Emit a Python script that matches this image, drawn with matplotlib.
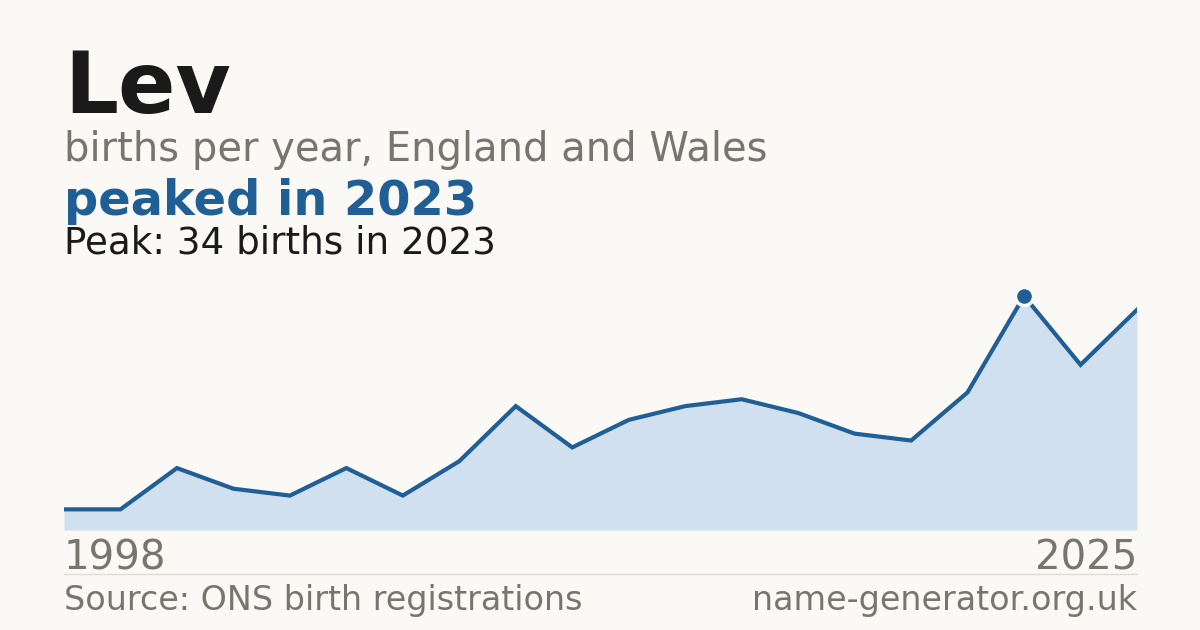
import matplotlib
matplotlib.use("Agg")
import matplotlib.pyplot as plt

# births per year for the name
years = [1998, 1999, 2001, 2003, 2004, 2006, 2008, 2009, 2011, 2012,
         2014, 2015, 2017, 2018, 2019, 2020, 2021, 2023, 2024, 2025]
births = [3, 3, 9, 6, 5, 9, 5, 10, 18, 12,
          16, 18, 19, 17, 14, 13, 20, 34, 24, 32]

name = "Lev"
subtitle = "births per year, England and Wales"
headline = "peaked in 2023"
peak_note = "Peak: 34 births in 2023"
source = "Source: ONS birth registrations"
site = "name-generator.org.uk"

BG = "#faf9f5"
BLUE = "#1f5f96"
FILL = "#d0e0ef"
GREY = "#78746e"
INK = "#1a1a1a"

W, H = 1200, 630
fig = plt.figure(figsize=(W / 100, H / 100), dpi=100, facecolor=BG)

left, right = 64, 1137
bottom_px, top_px = 530, 280
ax = fig.add_axes([left / W, 1 - bottom_px / H, (right - left) / W, (bottom_px - top_px) / H])
ax.set_facecolor(BG)
ax.patch.set_alpha(0)

xs = list(range(len(births)))
ax.fill_between(xs, births, 0, color=FILL, linewidth=0)
ax.plot(xs, births, color=BLUE, linewidth=3.0, solid_joinstyle="miter")

peak_i = births.index(max(births))
ax.plot([xs[peak_i]], [births[peak_i]], marker="o", markersize=13,
        color=BLUE, markeredgecolor=BG, markeredgewidth=2.5, zorder=5)

ax.set_xlim(0, len(births) - 1)
ax.set_ylim(0, max(births) * (bottom_px - top_px) / (bottom_px - 296))
ax.axis("off")

def ty(px):
    return 1 - px / H

fig.text(left / W, ty(113), name, fontsize=61, fontweight="bold", color=INK, va="baseline")
fig.text(left / W, ty(161), subtitle, fontsize=28.8, color=GREY, va="baseline")
fig.text(left / W, ty(215), headline, fontsize=34.5, fontweight="bold", color=BLUE, va="baseline")
fig.text(left / W, ty(254), peak_note, fontsize=26.8, color=INK, va="baseline")

fig.text(left / W, ty(569), str(years[0]), fontsize=29, color=GREY, va="baseline")
fig.text(right / W, ty(569), str(years[-1]), fontsize=29, color=GREY, va="baseline", ha="right")

fig.add_artist(plt.Line2D([left / W, right / W], [ty(574), ty(574)], color="#dddbd5", linewidth=1))

fig.text(left / W, ty(610), source, fontsize=24, color=GREY, va="baseline")
fig.text(right / W, ty(610), site, fontsize=24, color=GREY, va="baseline", ha="right")

fig.savefig("out.png", dpi=100, facecolor=BG)
